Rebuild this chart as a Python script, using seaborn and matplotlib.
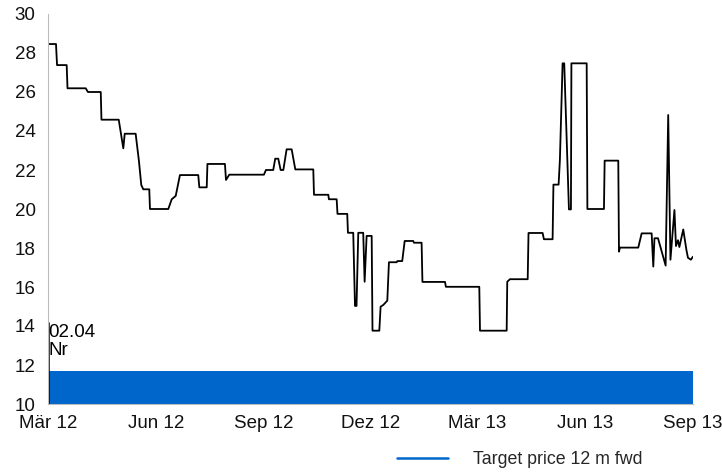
import matplotlib
matplotlib.use("Agg")
import matplotlib.pyplot as plt
import seaborn as sns
import pandas as pd
import numpy as np
from matplotlib.lines import Line2D

sns.set_style("white")
plt.rcParams['font.family'] = ['Liberation Sans', 'DejaVu Sans']

start = pd.Timestamp("2012-03-01")

# share price: days since start, value
price_days = [0, 6.8, 7.7, 15.9, 16.6, 32.1, 34.0, 44.9, 45.5, 60.2, 64.1, 65.3, 74.6, 77.4,
              79.4, 81.1, 86.2, 86.8, 102.4, 105.3, 108.7, 112.3, 127.9, 128.8, 135.1, 135.7,
              150.6, 151.5, 154.3, 183.8, 185.5, 191.7, 193.4, 196.0, 198.0, 200.3, 203.1,
              207.4, 210.5, 225.8, 226.4, 238.6, 239.1, 245.7, 246.4, 254.7, 255.3, 259.8,
              261.3, 262.6, 264.1, 268.3, 269.5, 271.2, 275.5, 276.2, 282.0, 283.1, 285.4,
              288.8, 290.2, 296.8, 297.4, 301.5, 303.6, 310.9, 311.5, 318.0, 318.7, 337.9,
              338.7, 367.1, 367.7, 390.4, 390.9, 393.2, 408.3, 409.0, 421.0, 422.1, 429.5,
              430.2, 434.6, 435.7, 438.0, 439.4, 443.4, 445.1, 445.5, 458.5, 459.1, 473.2,
              473.8, 485.4, 486.0, 486.8, 502.4, 505.3, 513.8, 515.2, 516.2, 519.2, 525.7,
              527.9, 529.8, 533.2, 534.5, 536.2, 537.4, 540.7, 543.4, 544.7, 547.2, 548.9]
price_vals = [28.46, 28.46, 27.38, 27.38, 26.19, 26.19, 26.0, 26.0, 24.58, 24.58, 23.11, 23.86,
              23.86, 22.46, 21.23, 21.01, 21.01, 20.0, 20.0, 20.5, 20.67, 21.74, 21.74, 21.11,
              21.11, 22.31, 22.31, 21.49, 21.76, 21.76, 22.0, 22.0, 22.58, 22.58, 22.0, 22.0,
              23.06, 23.06, 22.03, 22.03, 20.73, 20.73, 20.5, 20.5, 19.75, 19.75, 18.78, 18.78,
              15.03, 15.03, 18.78, 18.78, 16.27, 18.62, 18.62, 13.76, 13.76, 14.99, 15.08,
              15.30, 17.27, 17.27, 17.33, 17.33, 18.36, 18.36, 18.27, 18.27, 16.26, 16.26,
              16.01, 16.01, 13.76, 13.76, 16.27, 16.4, 16.4, 18.77, 18.77, 18.45, 18.45,
              21.25, 21.25, 22.51, 27.47, 27.47, 19.98, 19.98, 27.47, 27.47, 20.0, 20.0,
              22.48, 22.48, 17.81, 18.02, 18.02, 18.75, 18.75, 17.05, 18.5, 18.5, 17.1,
              24.82, 17.4, 19.95, 18.1, 18.4, 18.05, 18.95, 17.9, 17.5, 17.4, 17.55]

# target price 12 m fwd
target_days = [0, 549]
target_vals = [11.69, 11.69]

# rating marker
marker_day = 0
marker_top = 14.2
marker_label = "02.04\nNr"

tick_dates = ["2012-03-01", "2012-06-01", "2012-09-01", "2012-12-01",
              "2013-03-01", "2013-06-01", "2013-09-01"]
tick_labels = ["Mär 12", "Jun 12", "Sep 12", "Dez 12", "Mär 13", "Jun 13", "Sep 13"]

price = pd.DataFrame({"date": start + pd.to_timedelta(price_days, unit="D"), "value": price_vals})
target = pd.DataFrame({"date": start + pd.to_timedelta(target_days, unit="D"), "value": target_vals})

FS = 13.5
fig = plt.figure(figsize=(7.22, 4.73), dpi=100)
ax = fig.add_axes([48/722, 1-404/473, (693-48)/722, (404-14)/473])

blue = "#0066CC"
ax.fill_between(target["date"], 10, target["value"], color=blue, linewidth=0)
sns.lineplot(data=price, x="date", y="value", ax=ax, color="black", linewidth=1.3,
             sort=False, estimator=None)

md = start + pd.Timedelta(days=marker_day)
ax.vlines(md, 10, marker_top, color="black", linewidth=1.8)
ax.text(md + pd.Timedelta(days=0.5), 14.1, marker_label, va="top", ha="left",
        fontsize=FS, color="black", linespacing=1.1)

ax.set_ylim(10, 30)
ax.set_yticks(np.arange(10, 31, 2))
ax.set_xlim(start, start + pd.Timedelta(days=549))
ax.set_xticks(pd.to_datetime(tick_dates))
ax.set_xticklabels(tick_labels)
ax.set_xlabel("")
ax.set_ylabel("")
ax.tick_params(axis="both", labelsize=FS, labelcolor="#111111", length=5, width=0.8,
               direction="out", color="#BBBBBB")
ax.tick_params(axis="x", pad=3)
ax.tick_params(axis="y", pad=4)
for s in ["top", "right"]:
    ax.spines[s].set_visible(False)
for s in ["left", "bottom"]:
    ax.spines[s].set_color("#BBBBBB")
    ax.spines[s].set_linewidth(0.8)

handle = Line2D([0], [0], color=blue, linewidth=1.8)
fig.legend([handle], ["Target price 12 m fwd"], loc="center", bbox_to_anchor=(0.72, 0.029),
           frameon=False, fontsize=12.8, handlelength=2.9, handletextpad=1.4,
           borderpad=0, borderaxespad=0)

fig.savefig("out.png", dpi=100)
